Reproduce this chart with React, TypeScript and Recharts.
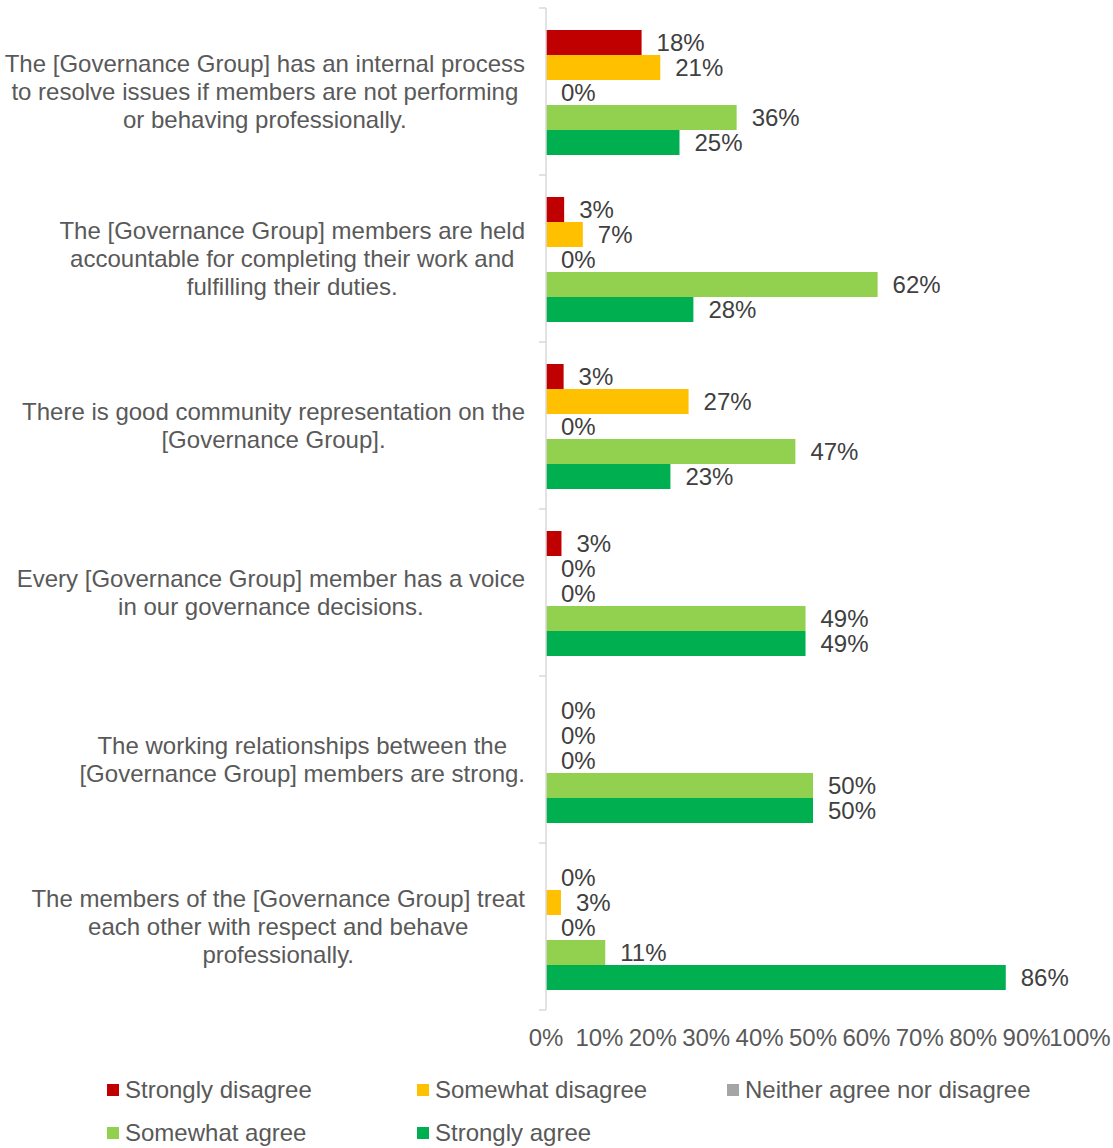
import React from 'react';
import { BarChart, Bar, XAxis, YAxis, Legend, LabelList } from 'recharts';

const categories = [
  'The [Governance Group] has an internal process\nto resolve issues if members are not performing\nor behaving professionally.',
  'The [Governance Group] members are held\naccountable for completing their work and\nfulfilling their duties.',
  'There is good community representation on the\n[Governance Group].',
  'Every [Governance Group] member has a voice\nin our governance decisions.',
  'The working relationships between the\n[Governance Group] members are strong.',
  'The members of the [Governance Group] treat\neach other with respect and behave\nprofessionally.',
];

const stronglyDisagree = [17.9, 3.4, 3.3, 2.9, 0, 0];
const somewhatDisagree = [21.4, 6.9, 26.7, 0, 0, 2.8];
const neitherAgree = [0, 0, 0, 0, 0, 0];
const somewhatAgree = [35.7, 62.1, 46.7, 48.6, 50, 11.1];
const stronglyAgree = [25.0, 27.6, 23.3, 48.6, 50, 86.1];

const xTicks = [0, 10, 20, 30, 40, 50, 60, 70, 80, 90, 100];

const SERIES = [
  { key: 'sd', name: 'Strongly disagree', color: '#C00000', values: stronglyDisagree },
  { key: 'swd', name: 'Somewhat disagree', color: '#FFC000', values: somewhatDisagree },
  { key: 'n', name: 'Neither agree nor disagree', color: '#A5A5A5', values: neitherAgree },
  { key: 'swa', name: 'Somewhat agree', color: '#92D050', values: somewhatAgree },
  { key: 'sa', name: 'Strongly agree', color: '#00B050', values: stronglyAgree },
];

const data = categories.map((name, i) => {
  const row: any = { name };
  SERIES.forEach((s) => (row[s.key] = s.values[i]));
  return row;
});

const FONT = "'Liberation Sans', Arial, sans-serif";
const FS = 24;

let ctx: CanvasRenderingContext2D | null = null;
const measure = (t: string) => {
  if (!ctx) {
    ctx = document.createElement('canvas').getContext('2d');
    if (ctx) ctx.font = `${FS}px ${FONT}`;
  }
  return ctx ? ctx.measureText(t).width : t.length * 12;
};

// wrapped label, lines centred on each other, block right-aligned near the axis
const CategoryTick = (props: any) => {
  const { x, y, payload, index, visibleTicksCount } = props;
  const lines: string[] = String(payload.value).split('\n');
  const half = payload.offset || 83.5;
  const maxW = Math.max(...lines.map(measure));
  const cx = x - 21 - maxW / 2;
  return (
    <g>
      <line x1={x - 7} x2={x} y1={y - half} y2={y - half} stroke="#D9D9D9" strokeWidth={1.5} />
      {index === visibleTicksCount - 1 && (
        <line x1={x - 7} x2={x} y1={y + half} y2={y + half} stroke="#D9D9D9" strokeWidth={1.5} />
      )}
      {lines.map((l, i) => (
        <text
          key={i}
          x={cx}
          y={y + (i - (lines.length - 1) / 2) * 28}
          dy="0.35em"
          textAnchor="middle"
          fill="#595959"
          fontSize={FS}
          fontFamily={FONT}
        >
          {l}
        </text>
      ))}
    </g>
  );
};

const LegendContent = () => (
  <div style={{ display: 'flex', flexWrap: 'wrap', width: 930 }}>
    {SERIES.map((s) => (
      <div
        key={s.key}
        style={{ width: 310, height: 43, display: 'flex', alignItems: 'center', fontSize: FS, color: '#595959' }}
      >
        <span style={{ width: 12, height: 12, background: s.color, marginRight: 6, display: 'inline-block' }} />
        <span>{s.name}</span>
      </div>
    ))}
  </div>
);

export default function App() {
  return (
    <div style={{ fontFamily: FONT, position: 'absolute', left: 0, top: 0, width: 1113, height: 1148 }}>
      <BarChart
        width={1113}
        height={1148}
        data={data}
        layout="vertical"
        margin={{ top: 8, right: 33, bottom: 12, left: 0 }}
        barCategoryGap={22}
        barGap={0}
      >
        <XAxis
          type="number"
          domain={[0, 100]}
          ticks={xTicks}
          interval={0}
          tickFormatter={(v) => `${v}%`}
          axisLine={false}
          tickLine={false}
          tickMargin={13}
          height={40}
          tick={{ fill: '#595959', fontSize: FS }}
        />
        <YAxis
          type="category"
          dataKey="name"
          width={546}
          interval={0}
          tickSize={0}
          tickMargin={0}
          tickLine={false}
          axisLine={{ stroke: '#D9D9D9', strokeWidth: 1.5 }}
          tick={(p: any) => <CategoryTick {...p} />}
        />
        <Legend content={<LegendContent />} wrapperStyle={{ left: 107, top: 1068, height: 86, width: 930 }} />
        {SERIES.map((s) => (
          <Bar
            key={s.key}
            dataKey={s.key}
            name={s.name}
            fill={s.color}
            minPointSize={0.01}
            isAnimationActive={false}
          >
            <LabelList
              dataKey={s.key}
              position="right"
              offset={15}
              fill="#404040"
              fontSize={FS}
              formatter={(v: any) => `${Math.round(Number(v))}%`}
            />
          </Bar>
        ))}
      </BarChart>
    </div>
  );
}
